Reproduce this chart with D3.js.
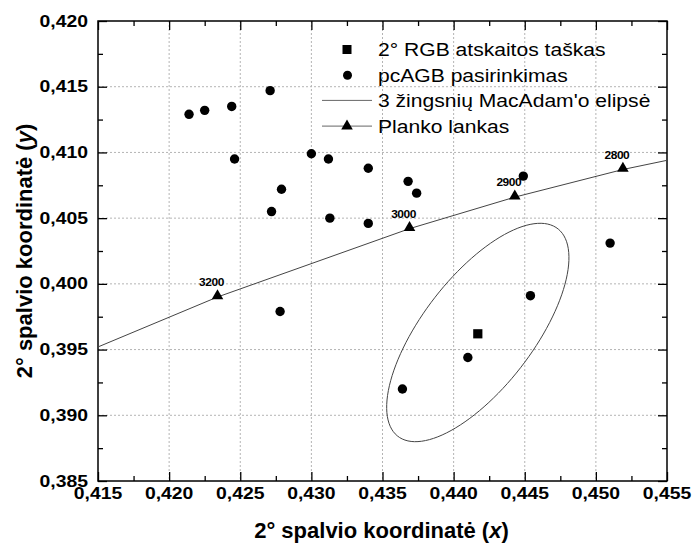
<!DOCTYPE html>
<html>
<head>
<meta charset="utf-8">
<script src="https://cdn.jsdelivr.net/npm/d3@7"></script>
<style>
  html, body { margin: 0; padding: 0; background: #fff; }
  svg { display: block; font-family: "Liberation Sans", Arial, sans-serif; }
</style>
</head>
<body>
<div id="chart"></div>
<script>
(function (d3) {
  "use strict";

  // reference point (2° RGB)
  var refX = [0.4417];
  var refY = [0.3962];

  // pcAGB selection
  var selX = [0.4214, 0.4225, 0.4244, 0.4271, 0.4246, 0.4300, 0.4312, 0.4279, 0.4272, 0.4313,
              0.4340, 0.4368, 0.4374, 0.4340, 0.4449, 0.4510, 0.4278, 0.4454, 0.4410, 0.4364];
  var selY = [0.4129, 0.4132, 0.4135, 0.4147, 0.4095, 0.4099, 0.4095, 0.4072, 0.4055, 0.4050,
              0.4088, 0.4078, 0.4069, 0.4046, 0.4082, 0.4031, 0.3979, 0.3991, 0.3944, 0.3920];

  // Planckian locus (line) and the marked temperatures
  var locusX = [0.4150, 0.4234, 0.4369, 0.4443, 0.4519, 0.4550];
  var locusY = [0.3952, 0.3990, 0.4042, 0.4066, 0.4087, 0.4094];
  var cctLabels = ["3200", "3000", "2900", "2800"];
  var cctX = [0.4234, 0.4369, 0.4443, 0.4519];
  var cctY = [0.3990, 0.4042, 0.4066, 0.4087];

  // 3-step MacAdam ellipse: centre, semi axes, angle (deg)
  var ellipseCenter = [0.4417, 0.3963];
  var ellipseAxes = [0.0097, 0.0040];
  var ellipseAngle = [55.5];

  var xTicks = [0.415, 0.420, 0.425, 0.430, 0.435, 0.440, 0.445, 0.450, 0.455];
  var yTicks = [0.385, 0.390, 0.395, 0.400, 0.405, 0.410, 0.415, 0.420];

  var legendLabels = ["2° RGB atskaitos taškas", "pcAGB pasirinkimas",
                      "3 žingsnių MacAdam'o elipsė", "Planko lankas"];

  var width = 693, height = 545;
  var margin = {top: 21, right: 26, bottom: 64, left: 98};
  var w = width - margin.left - margin.right,
      h = height - margin.top - margin.bottom;
  var stretch = 1.14; // the original text is drawn a bit wider than the font

  var locale = d3.formatLocale({decimal: ",", thousands: " ", grouping: [3], currency: ["", ""]});
  var fmt = locale.format(".3f");

  var x = d3.scaleLinear().domain([0.415, 0.455]).range([0, w]);
  var y = d3.scaleLinear().domain([0.385, 0.420]).range([h, 0]);

  var svg = d3.select("#chart").append("svg")
      .attr("width", width)
      .attr("height", height);

  var g = svg.append("g")
      .attr("transform", "translate(" + margin.left + "," + margin.top + ")");

  function place(px, py) {
    return "translate(" + px + "," + py + ") scale(" + stretch + ",1)";
  }

  // grid
  g.append("g").selectAll("line")
    .data(xTicks.slice(1, -1))
    .enter().append("line")
      .attr("x1", function (d) { return x(d); })
      .attr("x2", function (d) { return x(d); })
      .attr("y1", 0).attr("y2", h)
      .attr("stroke", "#b4b4b4").attr("stroke-dasharray", "2,2");
  g.append("g").selectAll("line")
    .data(yTicks.slice(1, -1))
    .enter().append("line")
      .attr("y1", function (d) { return y(d); })
      .attr("y2", function (d) { return y(d); })
      .attr("x1", 0).attr("x2", w)
      .attr("stroke", "#b4b4b4").attr("stroke-dasharray", "2,2");

  // minor ticks halfway between the majors
  var xMinor = xTicks.slice(0, -1).map(function (d) { return d + 0.0025; });
  var yMinor = yTicks.slice(0, -1).map(function (d) { return d + 0.0025; });

  // axes, ticks pointing inward
  function tickSet(axisFn, scale, major, minor, tf) {
    var a = g.append("g").attr("transform", tf)
      .call(axisFn(scale).tickValues(major).tickSizeInner(-9).tickSizeOuter(0).tickFormat(""));
    a.select(".domain").remove();
    a.selectAll("line").attr("stroke", "#000").attr("stroke-width", 1.3);
    var b = g.append("g").attr("transform", tf)
      .call(axisFn(scale).tickValues(minor).tickSizeInner(-5).tickSizeOuter(0).tickFormat(""));
    b.select(".domain").remove();
    b.selectAll("line").attr("stroke", "#000").attr("stroke-width", 1.3);
  }
  tickSet(d3.axisBottom, x, xTicks, xMinor, "translate(0," + h + ")");
  tickSet(d3.axisTop, x, xTicks, xMinor, "translate(0,0)");
  tickSet(d3.axisLeft, y, yTicks, yMinor, "translate(0,0)");
  tickSet(d3.axisRight, y, yTicks, yMinor, "translate(" + w + ",0)");

  // tick labels
  g.append("g").selectAll("text")
    .data(xTicks)
    .enter().append("text")
      .attr("transform", function (d) { return place(x(d), h + 18); })
      .attr("text-anchor", "middle")
      .attr("font-size", 17).attr("font-weight", "bold")
      .text(fmt);
  g.append("g").selectAll("text")
    .data(yTicks)
    .enter().append("text")
      .attr("transform", function (d) { return place(-10, y(d) + 5.5); })
      .attr("text-anchor", "end")
      .attr("font-size", 17).attr("font-weight", "bold")
      .text(fmt);

  // frame
  g.append("rect")
    .attr("width", w).attr("height", h)
    .attr("fill", "none").attr("stroke", "#000").attr("stroke-width", 1.5);

  // axis titles
  var xt = svg.append("text")
    .attr("x", margin.left + w / 2 - 1)
    .attr("y", 538)
    .attr("text-anchor", "middle")
    .attr("font-size", 22).attr("font-weight", "bold");
  xt.append("tspan").text("2° spalvio koordinatė (");
  xt.append("tspan").attr("font-style", "italic").text("x");
  xt.append("tspan").text(")");

  var yt = svg.append("text")
    .attr("transform", "translate(32," + (margin.top + h / 2) + ") rotate(-90)")
    .attr("text-anchor", "middle")
    .attr("font-size", 22).attr("font-weight", "bold");
  yt.append("tspan").text("2° spalvio koordinatė (");
  yt.append("tspan").attr("font-style", "italic").text("y");
  yt.append("tspan").text(")");

  var plot = g.append("g");

  // ellipse
  var ec = ellipseCenter, th = ellipseAngle[0] * Math.PI / 180;
  var ePts = d3.range(0, 361, 3).map(function (deg) {
    var t = deg * Math.PI / 180;
    var ca = ellipseAxes[0] * Math.cos(t), sb = ellipseAxes[1] * Math.sin(t);
    return [ec[0] + ca * Math.cos(th) - sb * Math.sin(th),
            ec[1] + ca * Math.sin(th) + sb * Math.cos(th)];
  });
  plot.append("path")
    .datum(ePts)
    .attr("fill", "none").attr("stroke", "#444").attr("stroke-width", 1)
    .attr("d", d3.line().x(function (d) { return x(d[0]); }).y(function (d) { return y(d[1]); }));

  // Planck locus
  plot.append("path")
    .datum(d3.zip(locusX, locusY))
    .attr("fill", "none").attr("stroke", "#444").attr("stroke-width", 1)
    .attr("d", d3.line().x(function (d) { return x(d[0]); }).y(function (d) { return y(d[1]); }));

  var tri = d3.symbol().type(d3.symbolTriangle).size(58);
  plot.selectAll(".cct")
    .data(d3.zip(cctX, cctY, cctLabels))
    .enter().append("path")
      .attr("class", "cct")
      .attr("d", tri)
      .attr("transform", function (d) { return "translate(" + x(d[0]) + "," + (y(d[1]) - 1) + ")"; })
      .attr("fill", "#000");
  plot.selectAll(".cctl")
    .data(d3.zip(cctX, cctY, cctLabels))
    .enter().append("text")
      .attr("class", "cctl")
      .attr("transform", function (d) { return place(x(d[0]) - 6, y(d[1]) - 11); })
      .attr("text-anchor", "middle")
      .attr("font-size", 10.5).attr("font-weight", "bold")
      .attr("letter-spacing", -0.4)
      .text(function (d) { return d[2]; });

  // selection points
  plot.selectAll(".sel")
    .data(d3.zip(selX, selY))
    .enter().append("circle")
      .attr("class", "sel")
      .attr("cx", function (d) { return x(d[0]); })
      .attr("cy", function (d) { return y(d[1]); })
      .attr("r", 4.7)
      .attr("fill", "#000");

  // reference point
  plot.selectAll(".ref")
    .data(d3.zip(refX, refY))
    .enter().append("rect")
      .attr("class", "ref")
      .attr("x", function (d) { return x(d[0]) - 4.6; })
      .attr("y", function (d) { return y(d[1]) - 4.6; })
      .attr("width", 9.2).attr("height", 9.2)
      .attr("fill", "#000");

  // legend
  var leg = svg.append("g").attr("font-size", 18.5);
  var rows = leg.selectAll("g")
    .data(legendLabels)
    .enter().append("g")
      .attr("transform", function (d, i) { return "translate(0," + (56 + i * 25.7) + ")"; });
  rows.append("text")
    .attr("transform", place(378, 0))
    .text(function (d) { return d; });
  rows.filter(function (d, i) { return i === 0; }).append("rect")
    .attr("x", 342.5).attr("y", -11).attr("width", 9).attr("height", 9).attr("fill", "#000");
  rows.filter(function (d, i) { return i === 1; }).append("circle")
    .attr("cx", 347.5).attr("cy", -6.5).attr("r", 4.5).attr("fill", "#000");
  rows.filter(function (d, i) { return i >= 2; }).append("line")
    .attr("x1", 322).attr("x2", 372).attr("y1", -7).attr("y2", -7)
    .attr("stroke", "#666").attr("stroke-width", 1);
  rows.filter(function (d, i) { return i === 3; }).append("path")
    .attr("d", tri)
    .attr("transform", "translate(347,-7)")
    .attr("fill", "#000");
}(d3));
</script>
</body>
</html>
